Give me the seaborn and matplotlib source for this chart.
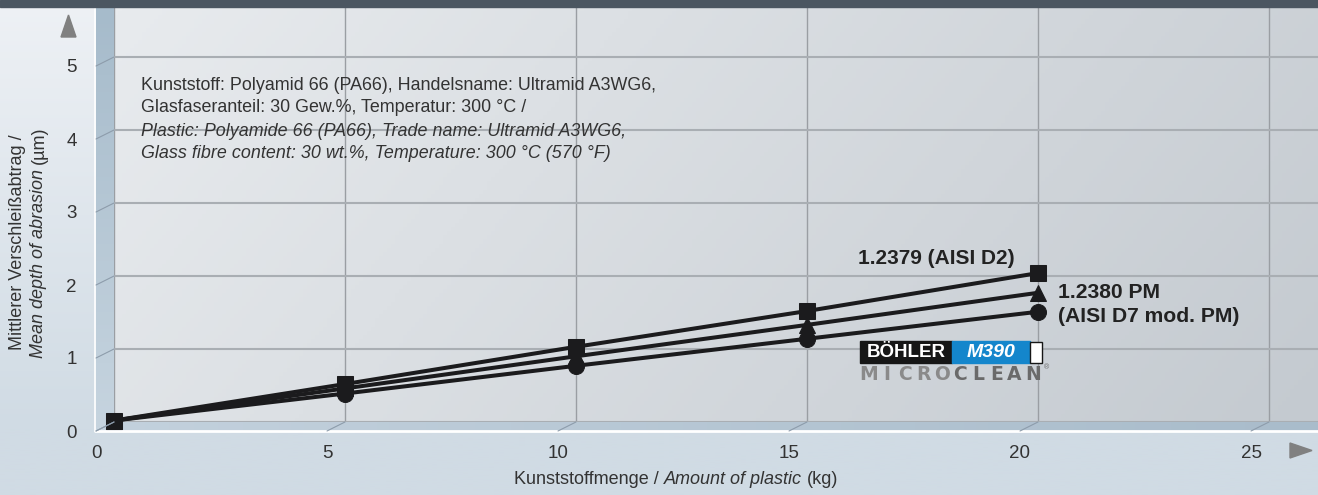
import numpy as np
import pandas as pd
import matplotlib
matplotlib.use('Agg')
import matplotlib.pyplot as plt
import seaborn as sns
from matplotlib.colors import LinearSegmentedColormap
from matplotlib.patches import Polygon, Rectangle
from matplotlib.lines import Line2D
from matplotlib.transforms import IdentityTransform

# values (series sit on the back wall of the 3D frame)
amount_kg = [0, 5, 10, 15, 20]
depth_d2 = [0.02, 0.52, 1.03, 1.52, 2.04]      # 1.2379 (AISI D2)
depth_d7pm = [0.02, 0.46, 0.90, 1.33, 1.77]    # 1.2380 PM
depth_m390 = [0.02, 0.39, 0.77, 1.14, 1.51]    # BOHLER M390 MICROCLEAN

steels = ['1.2379', '1.2380 PM', 'M390']
x_ticks = [0, 5, 10, 15, 20, 25]
y_ticks = [0, 1, 2, 3, 4, 5]

note_lines = [
    'Kunststoff: Polyamid 66 (PA66), Handelsname: Ultramid A3WG6,',
    'Glasfaseranteil: 30 Gew.%, Temperatur: 300 °C /',
    'Plastic: Polyamide 66 (PA66), Trade name: Ultramid A3WG6,',
    'Glass fibre content: 30 wt.%, Temperature: 300 °C (570 °F)',
]

df = pd.DataFrame({
    'kg': amount_kg * 3,
    'depth': depth_d2 + depth_d7pm + depth_m390,
    'steel': np.repeat(steels, len(amount_kg)),
})

W, H = 1318, 495
sns.set_theme(style='white')
plt.rcParams['font.family'] = ['Liberation Sans', 'DejaVu Sans']

fig = plt.figure(figsize=(W / 100, H / 100), dpi=100)

# background axes in pixel coordinates (y downwards)
bg = fig.add_axes([0, 0, 1, 1], zorder=0)
bg.axis('off')
outer = LinearSegmentedColormap.from_list('outer', ['#eef1f5', '#d0dbe4'])
g = np.clip(np.linspace(0, H, 200) / 430, 0, 1)[:, None]
bg.imshow(g, extent=(0, W, H, 0), aspect='auto', cmap=outer, vmin=0, vmax=1)

# left wall and floor of the pseudo 3D box
wall = Polygon([(96, 7), (114, 7), (114, 422), (96, 431)], closed=True,
               transform=bg.transData, facecolor='none', edgecolor='none')
bg.add_patch(wall)
wall_cm = LinearSegmentedColormap.from_list('wall', ['#a6bbcb', '#c6d4df'])
im = bg.imshow(np.linspace(0, 1, 100)[:, None], extent=(96, 114, 431, 7),
               aspect='auto', cmap=wall_cm)
im.set_clip_path(wall)

floor = Polygon([(96, 431), (114, 422), (W, 422), (W, 431)], closed=True,
                transform=bg.transData, facecolor='none', edgecolor='none')
bg.add_patch(floor)
floor_cm = LinearSegmentedColormap.from_list('floor', ['#c3d1dd', '#a9bccb'])
im = bg.imshow(np.linspace(0, 1, 100)[None, :], extent=(96, W, 431, 422),
               aspect='auto', cmap=floor_cm)
im.set_clip_path(floor)

bg.plot([95, 95], [7, 431], color='white', lw=1.2)
bg.plot([95, W], [431, 431], color='white', lw=2)

# axis arrows
bg.add_patch(Polygon([(61, 37), (76, 37), (68.5, 15)], closed=True, color='#808080'))
bg.add_patch(Polygon([(1290, 443), (1290, 458), (1312, 450.5)], closed=True, color='#808080'))
bg.set_xlim(0, W)
bg.set_ylim(H, 0)

# back wall with data
PX, PY = 46.2, 73.0
ax = fig.add_axes([114 / W, (H - 422) / H, (W - 114) / W, (422 - 7) / H], zorder=1)
xmax, ymax = (W - 114) / PX, (422 - 7) / PY
back_cm = LinearSegmentedColormap.from_list('back', ['#e8ebee', '#c4cad0'])
cx = np.linspace(0, 1, 300)[None, :]
ry = np.linspace(0, 1, 100)[:, None]
ax.imshow(0.78 * cx + 0.22 * ry, extent=(0, xmax, 0, ymax), aspect='auto',
          cmap=back_cm, vmin=0, vmax=1, zorder=0)
ax.set_xlim(0, xmax)
ax.set_ylim(0, ymax)
ax.set_xticks(x_ticks)
ax.set_yticks(y_ticks)
ax.xaxis.grid(True, color='#9a9ea3', lw=1)
ax.yaxis.grid(True, color='#a9aeb3', lw=1.5)
ax.set_axisbelow(True)
ax.tick_params(labelbottom=False, labelleft=False, length=0)
for s in ax.spines.values():
    s.set_visible(False)

sns.lineplot(data=df, x='kg', y='depth', hue='steel', style='steel',
             palette={k: '#1b1b1d' for k in steels},
             markers={'1.2379': 's', '1.2380 PM': '^', 'M390': 'o'},
             dashes=False, lw=2.9, markersize=11.5, markeredgecolor='#1b1b1d',
             legend=False, ax=ax, zorder=3, clip_on=False)
ax.set_xlabel('')
ax.set_ylabel('')

# front edge carries the tick labels
af = fig.add_axes([96 / W, (H - 431) / H, (W - 114) / W, (422 - 7) / H], zorder=0.5)
af.set_xlim(0, xmax)
af.set_ylim(0, ymax)
af.patch.set_alpha(0)
for s in af.spines.values():
    s.set_visible(False)
af.set_xticks(x_ticks)
af.set_yticks(y_ticks)
af.tick_params(axis='x', length=0, pad=10, labelsize=13.5, labelcolor='#333333')
af.tick_params(axis='y', length=0, pad=14, labelsize=13.5, labelcolor='#333333')

# diagonals joining front ticks and back grid lines
for k in x_ticks:
    p0 = af.transData.transform((k, 0))
    p1 = ax.transData.transform((k, 0))
    fig.add_artist(Line2D([p0[0], p1[0]], [p0[1], p1[1]], transform=IdentityTransform(),
                          color='#8d9cab', lw=0.8))
for k in y_ticks:
    p0 = af.transData.transform((0, k))
    p1 = ax.transData.transform((0, k))
    fig.add_artist(Line2D([p0[0], p1[0]], [p0[1], p1[1]], transform=IdentityTransform(),
                          color='#8d9cab', lw=0.8))

T = bg.transData
fig.add_artist(Rectangle((0, 0), W, 7, transform=T, color='#4b5661', zorder=5))

# note text
for i, line in enumerate(note_lines):
    fig.text(141, 85 + 23 * i, line, transform=T, fontsize=12.9, color='#333333',
             style='italic' if i >= 2 else 'normal', va='center', ha='left')

# series labels
fig.text(1015, 259, '1.2379 (AISI D2)', transform=T, fontsize=15, weight='bold',
         color='#222222', ha='right', va='center')
fig.text(1058, 293, '1.2380 PM', transform=T, fontsize=15.2, weight='bold',
         color='#222222', ha='left', va='center')
fig.text(1058, 316, '(AISI D7 mod. PM)', transform=T, fontsize=15.2, weight='bold',
         color='#222222', ha='left', va='center')

# BOHLER M390 MICROCLEAN badge
fig.add_artist(Rectangle((860, 341), 92, 22, transform=T, color='#161616', zorder=5))
fig.add_artist(Rectangle((952, 341), 78, 22, transform=T, color='#1486cc', zorder=5))
fig.add_artist(Rectangle((1030, 341.5), 12, 21, transform=T, facecolor='white',
                         edgecolor='#161616', lw=1, zorder=5))
fig.text(906, 352.5, 'BÖHLER', transform=T, fontsize=13.5, weight='bold', color='white',
         ha='center', va='center', zorder=6)
fig.text(991, 352.5, 'M390', transform=T, fontsize=14, weight='bold', style='italic',
         color='white', ha='center', va='center', zorder=6)
for i, ch in enumerate('MICROCLEAN'):
    fig.text(869 + 18.2 * i, 374, ch, transform=T, fontsize=13.5, weight='bold',
             family='DejaVu Sans', color='#8a8a8a' if i < 5 else '#6a6a6a',
             ha='center', va='center')
fig.text(1046, 368, '®', transform=T, fontsize=5, color='#6a6a6a', ha='center', va='center')

# axis titles with mixed upright / italic parts
r = fig.canvas.get_renderer()


def text_w(s, **kw):
    t = fig.text(0, 0, s, **kw)
    w = t.get_window_extent(r).width
    t.remove()
    return w


fs = 13
sp = text_w('a a', fontsize=fs) - text_w('aa', fontsize=fs)
parts = [('Kunststoffmenge /', 'normal'), ('Amount of plastic', 'italic'), ('(kg)', 'normal')]
widths = [text_w(p, fontsize=fs, style=st) for p, st in parts]
x = 676 - (sum(widths) + 2 * sp) / 2
for (p, st), w in zip(parts, widths):
    fig.text(x, 479, p, transform=T, fontsize=fs, style=st, color='#333333',
             ha='left', va='center')
    x += w + sp

yc = 242
fig.text(18, yc, 'Mittlerer Verschleißabtrag /', transform=T, fontsize=fs,
         color='#333333', rotation=90, ha='center', va='center')
parts = [('Mean depth of abrasion', 'italic'), ('(µm)', 'normal')]
widths = [text_w(p, fontsize=fs, style=st) for p, st in parts]
y = yc + (sum(widths) + sp) / 2
for (p, st), w in zip(parts, widths):
    fig.text(39, y, p, transform=T, fontsize=fs, style=st, color='#333333',
             rotation=90, ha='center', va='bottom')
    y -= w + sp

fig.savefig('out.png', dpi=100)
